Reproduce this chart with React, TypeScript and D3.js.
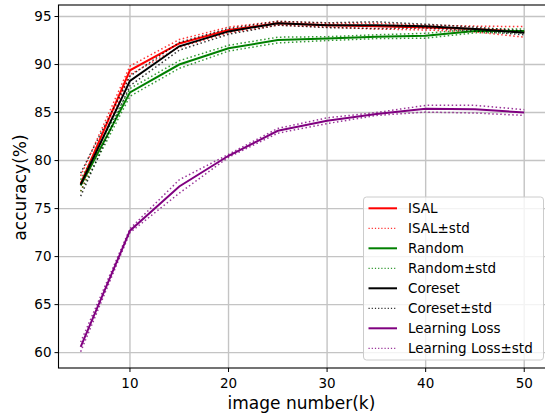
import React from "react";
import * as d3 from "d3";

const xValues = [5, 10, 15, 20, 25, 30, 35, 40, 45, 50];
const isalMean = [77.6, 89.4, 92.2, 93.6, 94.3, 94.1, 94.0, 93.85, 93.7, 93.4];
const isalStd = [0.8, 0.45, 0.4, 0.3, 0.2, 0.2, 0.3, 0.25, 0.3, 0.55];
const randomMean = [77.4, 87.1, 90.0, 91.7, 92.55, 92.7, 92.9, 93.0, 93.5, 93.5];
const randomStd = [0.6, 0.4, 0.4, 0.3, 0.3, 0.2, 0.2, 0.25, 0.2, 0.2];
const coresetMean = [77.5, 88.3, 91.9, 93.45, 94.3, 94.1, 94.1, 94.0, 93.7, 93.3];
const coresetStd = [1.2, 0.5, 0.4, 0.3, 0.2, 0.25, 0.35, 0.2, 0.2, 0.2];
const llMean = [60.6, 72.7, 77.3, 80.5, 83.1, 84.15, 84.85, 85.4, 85.35, 85.0];
const llStd = [0.5, 0.2, 0.7, 0.15, 0.25, 0.3, 0.15, 0.35, 0.4, 0.3];

const xTicks = [10, 20, 30, 40, 50];
const yTicks = [60, 65, 70, 75, 80, 85, 90, 95];

const seriesNames = ["ISAL", "Random", "Coreset", "Learning Loss"];
const seriesColors = ["#ff0000", "#008000", "#000000", "#800080"];
const seriesMeans = [isalMean, randomMean, coresetMean, llMean];
const seriesStds = [isalStd, randomStd, coresetStd, llStd];

const W = 545;
const H = 415;
const plot = { left: 58.5, top: 5, right: 546.4, bottom: 368 };
const FONT = "DejaVu Sans, sans-serif";

export default function App() {
  const x = d3.scaleLinear().domain([2.75, 52.25]).range([plot.left, plot.right]);
  const y = d3.scaleLinear().domain([58.4, 96.2]).range([plot.bottom, plot.top]);
  const line = d3
    .line<[number, number]>()
    .x((d) => x(d[0]))
    .y((d) => y(d[1]));

  const mk = (vals: number[]) => xValues.map((xv, i) => [xv, vals[i]] as [number, number]);

  const legendX = 363.5;
  const legendY = 197;
  const legendW = 180;
  const legendH = 163;
  const rowY0 = 208.3;
  const rowStep = 20;

  return (
    <svg
      width={W}
      height={H}
      style={{ position: "absolute", left: 0, top: 0, background: "#fff" }}
      fontFamily={FONT}
    >
      <rect x={0} y={0} width={W} height={H} fill="#fff" />
      {/* grid */}
      {xTicks.map((t) => (
        <line key={"gx" + t} x1={x(t)} x2={x(t)} y1={plot.top} y2={plot.bottom} stroke="#c4c4c4" strokeWidth={1.4} />
      ))}
      {yTicks.map((t) => (
        <line key={"gy" + t} x1={plot.left} x2={plot.right} y1={y(t)} y2={y(t)} stroke="#c4c4c4" strokeWidth={1.4} />
      ))}
      {/* lines */}
      {seriesNames.map((name, si) => {
        const m = seriesMeans[si];
        const s = seriesStds[si];
        const up = m.map((v, i) => v + s[i]);
        const lo = m.map((v, i) => v - s[i]);
        return (
          <g key={name}>
            <path d={line(mk(m)) || ""} fill="none" stroke={seriesColors[si]} strokeWidth={2} />
            <path d={line(mk(up)) || ""} fill="none" stroke={seriesColors[si]} strokeWidth={1.5} strokeDasharray="1.5,2.5" opacity={0.8} />
            <path d={line(mk(lo)) || ""} fill="none" stroke={seriesColors[si]} strokeWidth={1.5} strokeDasharray="1.5,2.5" opacity={0.8} />
          </g>
        );
      })}
      {/* spines */}
      <rect x={plot.left} y={plot.top} width={plot.right - plot.left} height={plot.bottom - plot.top} fill="none" stroke="#000" strokeWidth={1.1} />
      {/* x ticks */}
      {xTicks.map((t) => (
        <g key={"xt" + t}>
          <line x1={x(t)} x2={x(t)} y1={plot.bottom} y2={plot.bottom + 4} stroke="#000" strokeWidth={1} />
          <text x={x(t)} y={plot.bottom + 20} textAnchor="middle" fontSize={13.5} fill="#000">
            {t}
          </text>
        </g>
      ))}
      {/* y ticks */}
      {yTicks.map((t) => (
        <g key={"yt" + t}>
          <line x1={plot.left - 4} x2={plot.left} y1={y(t)} y2={y(t)} stroke="#000" strokeWidth={1} />
          <text x={plot.left - 7} y={y(t)} dy="0.35em" textAnchor="end" fontSize={13.5} fill="#000">
            {t}
          </text>
        </g>
      ))}
      {/* axis labels */}
      <text x={(plot.left + plot.right) / 2 - 1} y={409} textAnchor="middle" fontSize={17} fill="#000">
        image number(k)
      </text>
      <text
        transform={`translate(20,${(plot.top + plot.bottom) / 2 + 1}) rotate(-90)`}
        textAnchor="middle"
        dy="0.35em"
        fontSize={17}
        fill="#000"
      >
        accuracy(%)
      </text>
      {/* legend */}
      <rect x={legendX} y={legendY} width={legendW} height={legendH} rx={3} fill="#fff" fillOpacity={0.8} stroke="#cccccc" strokeWidth={1} />
      {seriesNames.map((name, si) => {
        const ySolid = rowY0 + rowStep * (si * 2);
        const yDot = ySolid + rowStep;
        return (
          <g key={"lg" + name}>
            <line x1={368.5} x2={397} y1={ySolid} y2={ySolid} stroke={seriesColors[si]} strokeWidth={2} />
            <text x={408} y={ySolid} dy="0.35em" fontSize={13.5} fill="#000">
              {name}
            </text>
            <line x1={368.5} x2={397} y1={yDot} y2={yDot} stroke={seriesColors[si]} strokeWidth={1.2} strokeDasharray="1.2,2" opacity={0.8} />
            <text x={408} y={yDot} dy="0.35em" fontSize={13.5} fill="#000">
              {name + "±std"}
            </text>
          </g>
        );
      })}
    </svg>
  );
}
